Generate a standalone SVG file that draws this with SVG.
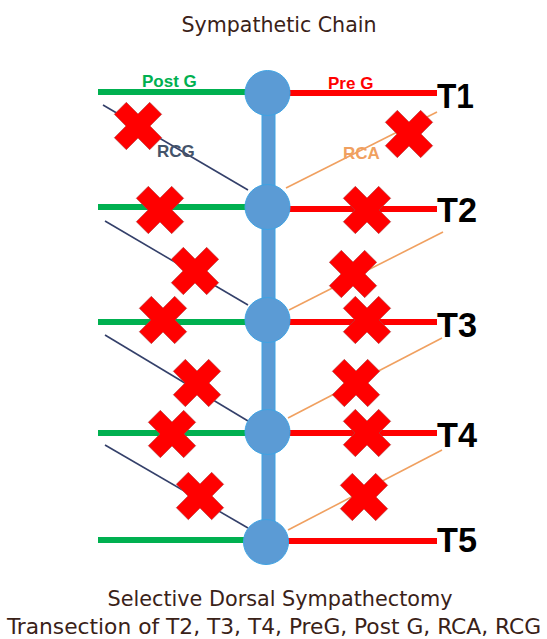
<svg xmlns="http://www.w3.org/2000/svg" xmlns:xlink="http://www.w3.org/1999/xlink" width="547" height="639" viewBox="0 0 547 639">
<style>
.cap{font-family:"DejaVu Sans Condensed","DejaVu Sans",sans-serif;font-size:22px;fill:#3a2218;text-anchor:middle}
.lbl{font-family:"Liberation Sans",Arial,sans-serif;font-size:17px;font-weight:bold}
.t{font-family:"Liberation Sans",Arial,sans-serif;font-size:35px;font-weight:bold;fill:#000}
.post{stroke:#00B050;stroke-width:6;fill:none}
.pre{stroke:#FF0000;stroke-width:6;fill:none}
.rcg{stroke:#34406A;stroke-width:1.6;fill:none}
.rca{stroke:#F0A060;stroke-width:1.6;fill:none}
.node{fill:#5B9BD5;stroke:#3FA3E3;stroke-width:1}
.cut{fill:#FF0000;stroke:#B04040;stroke-width:0.6}
</style>
<defs>
<path id="x" transform="rotate(45)" d="M-8.5,-25H8.5V-8.5H25V8.5H8.5V25H-8.5V8.5H-25V-8.5H-8.5Z"/>
</defs>
<rect width="547" height="639" fill="#fff"/>
<text class="cap" x="279" y="32" textLength="195" lengthAdjust="spacingAndGlyphs">Sympathetic Chain</text>
<g id="connectors">
<line class="post" x1="98" y1="92" x2="246" y2="92"/>
<line class="post" x1="98" y1="207" x2="246" y2="207"/>
<line class="post" x1="98" y1="322" x2="246" y2="322"/>
<line class="post" x1="98" y1="433" x2="246" y2="433"/>
<line class="post" x1="98" y1="540" x2="246" y2="540"/>
<line class="pre" x1="288" y1="93" x2="437" y2="93"/>
<line class="pre" x1="288" y1="209" x2="437" y2="209"/>
<line class="pre" x1="288" y1="322" x2="437" y2="322"/>
<line class="pre" x1="288" y1="433" x2="437" y2="433"/>
<line class="pre" x1="288" y1="541" x2="437" y2="541"/>
<line class="rcg" x1="103" y1="105" x2="248" y2="190"/>
<line class="rcg" x1="105" y1="221" x2="248" y2="305"/>
<line class="rcg" x1="105" y1="335" x2="248" y2="421"/>
<line class="rcg" x1="105" y1="445" x2="248" y2="528"/>
<line class="rca" x1="286" y1="188" x2="437" y2="112"/>
<line class="rca" x1="289" y1="310" x2="443" y2="232"/>
<line class="rca" x1="288" y1="418" x2="442" y2="338"/>
<line class="rca" x1="288" y1="530" x2="442" y2="450"/>
<rect x="262" y="100" width="13" height="430" fill="#5B9BD5" stroke="#3FA3E3" stroke-width="1"/>
</g>
<g id="T1"><circle class="node" cx="267.5" cy="93" r="22.5"/><text class="t" x="437" y="108" textLength="37" lengthAdjust="spacingAndGlyphs">T1</text></g>
<g id="T2"><circle class="node" cx="267.5" cy="207" r="22.5"/><text class="t" x="437" y="222" textLength="40" lengthAdjust="spacingAndGlyphs">T2</text></g>
<g id="T3"><circle class="node" cx="267.5" cy="320" r="22.5"/><text class="t" x="437" y="337" textLength="40" lengthAdjust="spacingAndGlyphs">T3</text></g>
<g id="T4"><circle class="node" cx="267.5" cy="432" r="22.5"/><text class="t" x="437" y="447" textLength="40" lengthAdjust="spacingAndGlyphs">T4</text></g>
<g id="T5"><circle class="node" cx="266" cy="542" r="22.5"/><text class="t" x="437" y="552" textLength="40" lengthAdjust="spacingAndGlyphs">T5</text></g>
<g id="labels">
<text class="lbl" x="142" y="87" fill="#00B050">Post G</text>
<text class="lbl" x="328" y="89" fill="#FF0000">Pre G</text>
<text class="lbl" x="157" y="157" fill="#44546A">RCG</text>
<text class="lbl" x="343" y="159" fill="#F0A060">RCA</text>
</g>
<g id="cuts" class="cut">
<use xlink:href="#x" transform="translate(138,126)"/>
<use xlink:href="#x" transform="translate(409,134)"/>
<use xlink:href="#x" transform="translate(160,210)"/>
<use xlink:href="#x" transform="translate(367,210)"/>
<use xlink:href="#x" transform="translate(195,271)"/>
<use xlink:href="#x" transform="translate(353,274)"/>
<use xlink:href="#x" transform="translate(163,320)"/>
<use xlink:href="#x" transform="translate(367,320)"/>
<use xlink:href="#x" transform="translate(197,383)"/>
<use xlink:href="#x" transform="translate(356,383)"/>
<use xlink:href="#x" transform="translate(172,434)"/>
<use xlink:href="#x" transform="translate(367,433)"/>
<use xlink:href="#x" transform="translate(200,496)"/>
<use xlink:href="#x" transform="translate(364,497)"/>
</g>
<text class="cap" x="280" y="606" textLength="345" lengthAdjust="spacingAndGlyphs">Selective Dorsal Sympathectomy</text>
<text class="cap" x="274" y="634" textLength="534" lengthAdjust="spacingAndGlyphs">Transection of T2, T3, T4, PreG, Post G, RCA, RCG</text>
</svg>
